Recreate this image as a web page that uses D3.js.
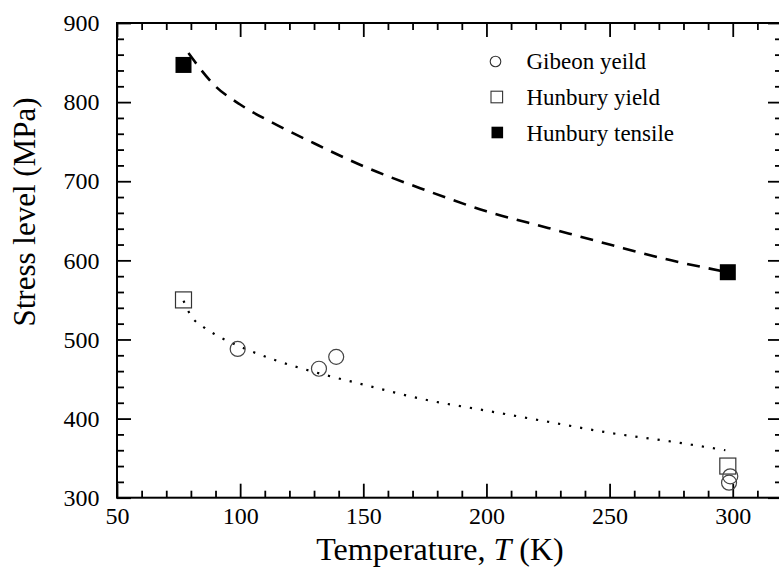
<!DOCTYPE html>
<html><head><meta charset="utf-8">
<script src="https://cdn.jsdelivr.net/npm/d3@7"></script>
<style>
html,body{margin:0;padding:0;background:#fff;}
svg{display:block;font-family:'Liberation Serif','Times New Roman',serif;}
svg text{font-family:'Liberation Serif','Times New Roman',serif !important;}
</style></head>
<body>
<svg id="chart" width="779" height="576"></svg>
<script>
// ---- data ----
const gibeonT = [99, 132, 139, 299, 298.5];
const gibeonS = [488, 463, 478, 327, 319];
const hunYieldT = [77, 298];
const hunYieldS = [550, 340];
const hunTensT = [77, 298];
const hunTensS = [847, 585];
const dashT = [79, 90, 100, 115, 130, 150, 175, 200, 225, 250, 275, 298];
const dashS = [862, 820, 797, 771, 748, 719, 689, 662, 641, 620, 600, 585];
const dotT = [77, 80, 85, 90, 100, 115, 130, 150, 175, 200, 225, 250, 275, 297];
const dotS = [549, 530, 516, 506, 491, 473, 459, 443, 424, 410, 396, 382, 371, 360];
const xMajor = [50, 100, 150, 200, 250, 300];
const yMajor = [300, 400, 500, 600, 700, 800, 900];
const legendLabels = ["Gibeon yeild", "Hunbury yield", "Hunbury tensile"];

const svg = d3.select("#chart");
const L = 117, R = 782, T = 23, B = 497.7;
const x = d3.scaleLinear().domain([50, 320]).range([L, R]);
const y = d3.scaleLinear().domain([300, 900]).range([B, T]);

const xMinor = d3.range(50, 321, 10).filter(v => !xMajor.includes(v));
const yMinor = d3.range(300, 901, 20).filter(v => !yMajor.includes(v));

function styleAxis(g) {
  g.attr("font-family", "'Liberation Serif','Times New Roman',serif").attr("font-size", 24);
  g.select(".domain").remove();
  g.selectAll(".tick line").attr("stroke", "#000").attr("stroke-width", 1.8);
  g.selectAll("text").attr("font-size", 24).attr("fill", "#000");
}

// bottom
svg.append("g").attr("transform", `translate(0,${B})`)
  .call(d3.axisBottom(x).tickValues(xMajor).tickSizeInner(-14).tickSizeOuter(0).tickPadding(9).tickFormat(d3.format("d")))
  .call(styleAxis);
svg.append("g").attr("transform", `translate(0,${B})`)
  .call(d3.axisBottom(x).tickValues(xMinor).tickSizeInner(-7).tickSizeOuter(0).tickFormat(""))
  .call(styleAxis);
// top
svg.append("g").attr("transform", `translate(0,${T})`)
  .call(d3.axisTop(x).tickValues(xMajor).tickSizeInner(-14).tickSizeOuter(0).tickFormat(""))
  .call(styleAxis);
svg.append("g").attr("transform", `translate(0,${T})`)
  .call(d3.axisTop(x).tickValues(xMinor).tickSizeInner(-7).tickSizeOuter(0).tickFormat(""))
  .call(styleAxis);
// left
svg.append("g").attr("transform", `translate(${L},0)`)
  .call(d3.axisLeft(y).tickValues(yMajor).tickSizeInner(-14).tickSizeOuter(0).tickPadding(17.5).tickFormat(d3.format("d")))
  .call(styleAxis);
svg.append("g").attr("transform", `translate(${L},0)`)
  .call(d3.axisLeft(y).tickValues(yMinor).tickSizeInner(-7).tickSizeOuter(0).tickFormat(""))
  .call(styleAxis);
// right
svg.append("g").attr("transform", `translate(${R},0)`)
  .call(d3.axisRight(y).tickValues(yMajor).tickSizeInner(-14).tickSizeOuter(0).tickFormat(""))
  .call(styleAxis);
svg.append("g").attr("transform", `translate(${R},0)`)
  .call(d3.axisRight(y).tickValues(yMinor).tickSizeInner(-7).tickSizeOuter(0).tickFormat(""))
  .call(styleAxis);

// frame
svg.append("rect").attr("x", L).attr("y", T).attr("width", R - L).attr("height", B - T)
  .attr("fill", "none").attr("stroke", "#000").attr("stroke-width", 2);

// curves
const line = d3.line().x(d => x(d[0])).y(d => y(d[1])).curve(d3.curveMonotoneX);
svg.append("path").datum(dashT.map((t, i) => [t, dashS[i]]))
  .attr("d", line).attr("fill", "none").attr("stroke", "#000")
  .attr("stroke-width", 2.6).attr("stroke-dasharray", "13,9");
svg.append("path").datum(dotT.map((t, i) => [t, dotS[i]]))
  .attr("d", line).attr("fill", "none").attr("stroke", "#000")
  .attr("stroke-width", 2.2).attr("stroke-dasharray", "2.2,9");

// markers
const sq = 16;
svg.append("g").selectAll("rect").data(hunYieldT.map((t, i) => [t, hunYieldS[i]])).join("rect")
  .attr("x", d => x(d[0]) - sq / 2).attr("y", d => y(d[1]) - sq / 2)
  .attr("width", sq).attr("height", sq)
  .attr("fill", "none").attr("stroke", "#333").attr("stroke-width", 1.2);
svg.append("g").selectAll("rect").data(hunTensT.map((t, i) => [t, hunTensS[i]])).join("rect")
  .attr("x", d => x(d[0]) - sq / 2).attr("y", d => y(d[1]) - sq / 2)
  .attr("width", sq).attr("height", sq).attr("fill", "#000");
svg.append("g").selectAll("circle").data(gibeonT.map((t, i) => [t, gibeonS[i]])).join("circle")
  .attr("cx", d => x(d[0])).attr("cy", d => y(d[1])).attr("r", 7.5)
  .attr("fill", "none").attr("stroke", "#444").attr("stroke-width", 1.2);

// legend
const lg = svg.append("g");
const ly = [61.5, 97, 132.5];
lg.append("circle").attr("cx", 495.5).attr("cy", ly[0]).attr("r", 5.3)
  .attr("fill", "none").attr("stroke", "#333").attr("stroke-width", 1.1);
lg.append("rect").attr("x", 491).attr("y", ly[1] - 5.8).attr("width", 11.6).attr("height", 11.6)
  .attr("fill", "none").attr("stroke", "#333").attr("stroke-width", 1.1);
lg.append("rect").attr("x", 491.5).attr("y", ly[2] - 5.8).attr("width", 11.6).attr("height", 11.6)
  .attr("fill", "#000");
lg.selectAll("text").data(legendLabels).join("text")
  .attr("x", 526.5).attr("y", (d, i) => [68.5, 105, 141][i])
  .attr("font-size", 23).attr("fill", "#000").text(d => d);

// axis titles
const xt = svg.append("text").attr("x", 440).attr("y", 560).attr("text-anchor", "middle")
  .attr("font-size", 32).attr("fill", "#000");
xt.append("tspan").text("Temperature, ");
xt.append("tspan").attr("font-style", "italic").text("T");
xt.append("tspan").text(" (K)");

svg.append("text").attr("transform", "translate(35,212) rotate(-90)")
  .attr("text-anchor", "middle").attr("font-size", 31).attr("fill", "#000")
  .text("Stress level (MPa)");
</script>
</body></html>
